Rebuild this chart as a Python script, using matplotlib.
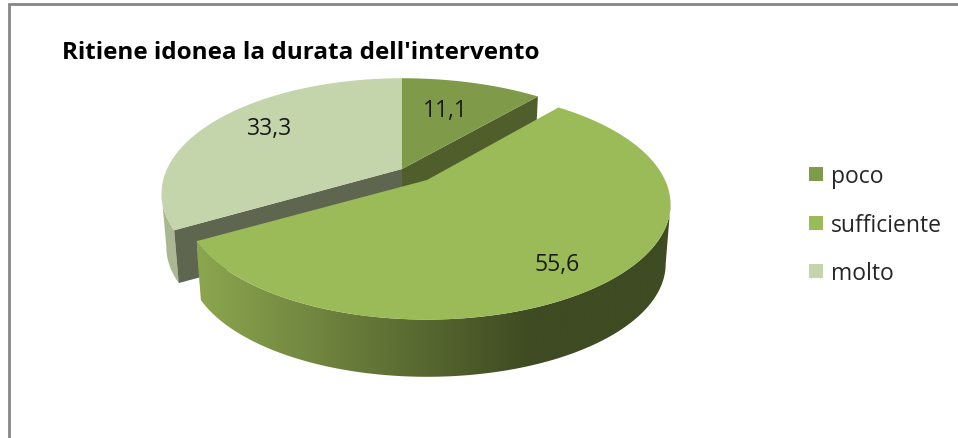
import numpy as np
import matplotlib
matplotlib.use('Agg')
import matplotlib.pyplot as plt
from matplotlib.patches import Polygon, Rectangle
from matplotlib.colors import LinearSegmentedColormap

plt.rcParams['font.family'] = ['Open Sans', 'DejaVu Sans']

title = "Ritiene idonea la durata dell'intervento"
categories = ['poco', 'sufficiente', 'molto']
values = [11.1, 55.6, 33.3]
colors = ['#7F9A48', '#9BBB59', '#C4D5AB']

# pie geometry in pixels
B, P = 110, 0.212
DEPTH = 60
BOTTOM_SCALE = 0.98
label_pos = [(445, 111), (557, 265), (270, 129)]
apexes = [(402, 170), (427, 181), (402, 170)]
radius = [246, 238, 235]
# angle where the disk outline is vertical on screen
EXTREME = np.arccos(-P)


def disk(theta, apex, a, scale=1.0, drop=0):
    # perspective mapping of the pie disk, theta clockwise from 12 o'clock
    u, v = np.sin(theta), np.cos(theta)
    s = scale / (1 + P * v)
    return np.column_stack([apex[0] + a * u * s, apex[1] + drop - B * v * s])


def arc(a0, a1, apex, a, scale=1.0, drop=0):
    return disk(np.linspace(a0, a1, 120), apex, a, scale, drop)


fig = plt.figure(figsize=(9.58, 4.39), dpi=100)
ax = fig.add_axes([0, 0, 1, 1])
ax.set_xlim(0, 958)
ax.set_ylim(439, 0)
ax.axis('off')

# chart frame, only left and top are in the picture
ax.plot([9, 9, 958], [439, 5, 5], color='#868686', lw=2, solid_joinstyle='miter')

ax.text(62, 53, title, fontsize=17.5, fontweight='bold', color='black', ha='left', va='center')

edges = 2 * np.pi * np.cumsum([0] + values) / sum(values)
poco = (edges[0], edges[1])
suff = (edges[1], edges[2])
molto = (edges[2], edges[3])

# molto: outer wall and cut face
ap, a = apexes[2], radius[2]
left_ext = 2 * np.pi - EXTREME
wall = np.vstack([arc(molto[0], left_ext, ap, a), arc(left_ext, molto[0], ap, a, BOTTOM_SCALE, DEPTH - 6)])
ax.add_patch(Polygon(wall, fc='#A9B893', ec='none', zorder=1))
tip = disk(np.array([molto[0]]), ap, a)[0]
tip_low = disk(np.array([molto[0]]), ap, a, BOTTOM_SCALE, DEPTH - 6)[0]
ax.add_patch(Polygon([ap, tip, tip_low, (ap[0], ap[1] + DEPTH - 6)], fc='#5F6650', ec='none', zorder=2))

# poco: cut face
ap, a = apexes[0], radius[0]
tip = disk(np.array([poco[1]]), ap, a)[0]
tip_low = disk(np.array([poco[1]]), ap, a, BOTTOM_SCALE, DEPTH - 6)[0]
ax.add_patch(Polygon([ap, tip, tip_low, (ap[0], ap[1] + DEPTH - 6)], fc='#4F5E2B', ec='none', zorder=2))

# top faces of the two slices in place
for rng, ap, a, col in [(poco, apexes[0], radius[0], colors[0]), (molto, apexes[2], radius[2], colors[2])]:
    ax.add_patch(Polygon(np.vstack([[ap], arc(rng[0], rng[1], ap, a)]), fc=col, ec='none', zorder=3))

# sufficiente: exploded slice, gradient outer wall
ap, a = apexes[1], radius[1]
wall = np.vstack([arc(EXTREME, suff[1], ap, a), arc(suff[1], EXTREME, ap, a, BOTTOM_SCALE, DEPTH)])
wall_patch = Polygon(wall, fc='none', ec='none', transform=ax.transData, zorder=4)
ax.add_patch(wall_patch)
cmap = LinearSegmentedColormap.from_list('wall', [(0, '#8CA64F'), (0.70, '#3F4B22'), (1, '#3F4B22')])
grad = ax.imshow(np.linspace(0, 1, 480)[None, :], cmap=cmap, vmin=0, vmax=1, aspect='auto',
                 extent=(197, 671, 400, 100), zorder=4)
grad.set_clip_path(wall_patch)
ax.set_xlim(0, 958)
ax.set_ylim(439, 0)
ax.add_patch(Polygon(np.vstack([[ap], arc(suff[0], suff[1], ap, a)]), fc=colors[1], ec='none', zorder=5))

# value labels
for val, pos in zip(values, label_pos):
    ax.text(pos[0], pos[1], f'{val:.1f}'.replace('.', ','), fontsize=16.5, color='#1a1a1a',
            ha='center', va='center', zorder=6)

# legend
legend_y = [176, 225, 273]
for cat, col, y in zip(categories, colors, legend_y):
    ax.add_patch(Rectangle((809, y - 8), 14, 14, fc=col, ec='none'))
    ax.text(831, y + 1, cat, fontsize=16.5, color='#262626', ha='left', va='center')

fig.savefig('out.png', dpi=100)
